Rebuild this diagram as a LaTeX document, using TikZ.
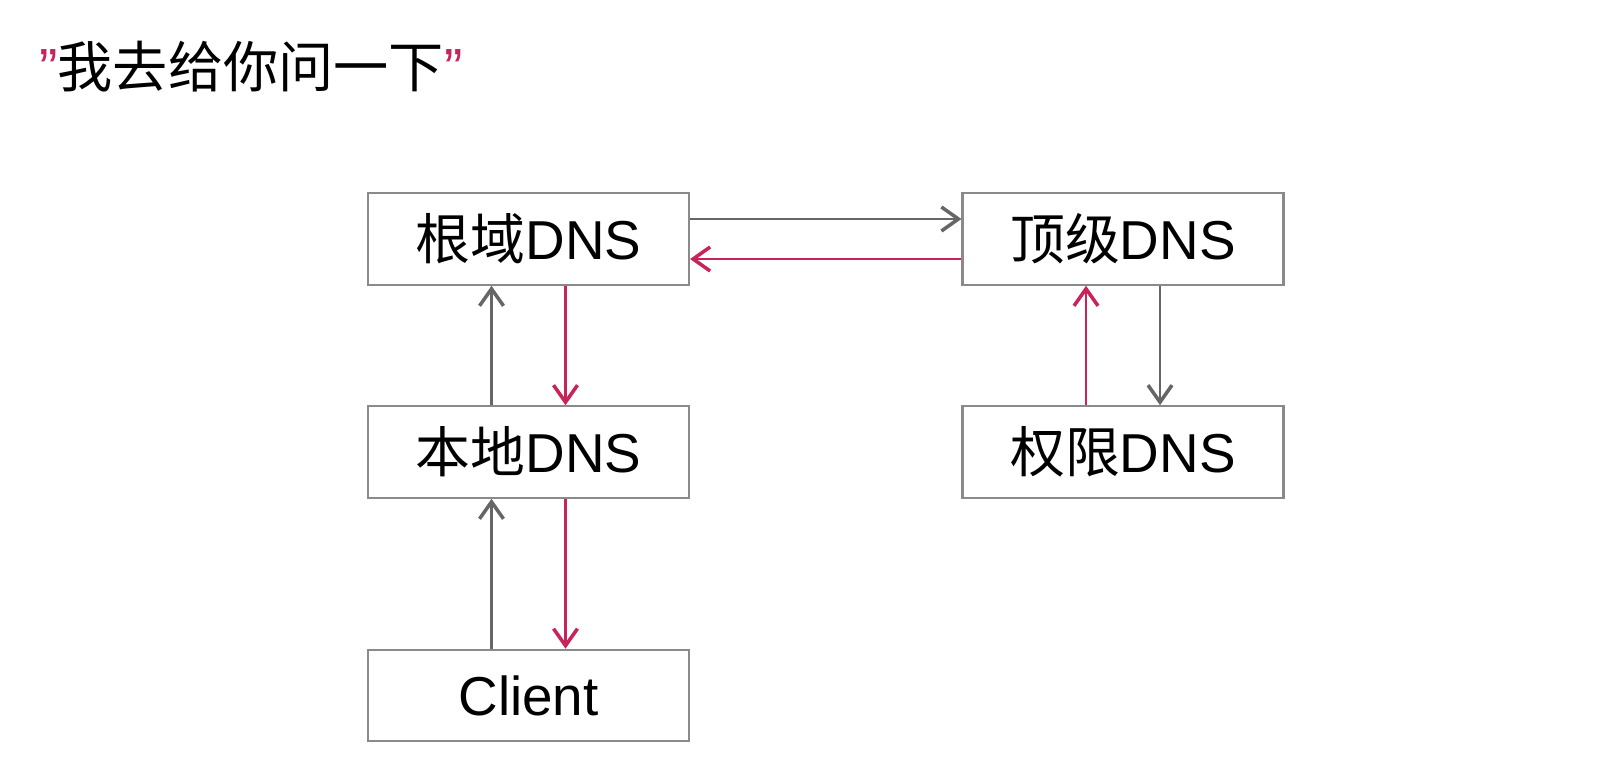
\documentclass[tikz,border=0pt]{standalone}
\usepackage{fontspec}
\setmainfont{Liberation Sans}
\newfontfamily\cjk{Noto Sans CJK SC}
\usepackage{tikz}
\usetikzlibrary{arrows.meta}
\definecolor{askgray}{HTML}{666666}
\definecolor{boxgray}{HTML}{8A8A8A}
\definecolor{answred}{HTML}{C8245A}

\begin{document}
\begin{tikzpicture}[scale=1,
        	dnsbox/.style={draw=boxgray,line width=0.6pt,minimum width=3.21cm,minimum height=0.915cm,
        	  inner sep=0pt,font=\fontsize{15.6}{18}\selectfont},
        	ask/.style={draw=askgray,line width=0.6pt,-{Straight Barb[length=1.7mm,width=2.4mm,line width=1pt]}},
        	answer/.style={draw=answred,line width=0.6pt,-{Straight Barb[length=1.7mm,width=2.4mm,line width=1pt]}}]
        	\pgfmathsetmacro{\dx}{0.37}
        	\pgfmathsetmacro{\dy}{0.2}

        	\fill[white] (0,0) rectangle (16.12,7.56);
        	\useasboundingbox (0,0) rectangle (16.12,7.56);

        	\node[anchor=base west,font=\fontsize{15.7}{18}\selectfont] (title) at (0.27,6.68)
        	  {\textcolor{answred}{”}{\cjk 我去给你问一下}\textcolor{answred}{”}};

        	\node[dnsbox] (root)   at (5.285,5.17)  {{\cjk 根域}DNS};
        	\node[dnsbox] (tld)    at (11.23,5.17)  {{\cjk 顶级}DNS};
        	\node[dnsbox] (local)  at (5.285,3.04)  {{\cjk 本地}DNS};
        	\node[dnsbox] (auth)   at (11.23,3.04)  {{\cjk 权限}DNS};
        	\node[dnsbox] (client) at (5.285,0.605) {Client};

        	\draw[ask] ([xshift=-\dx cm]client.north) -- ([xshift=-\dx cm]local.south);
        	\draw[ask] ([xshift=-\dx cm]local.north) -- ([xshift=-\dx cm]root.south);
        	\draw[ask] ([yshift=\dy cm]root.east) -- ([yshift=\dy cm]tld.west);
        	\draw[ask] ([xshift=\dx cm]tld.south) -- ([xshift=\dx cm]auth.north);

        	\draw[answer] ([xshift=-\dx cm]auth.north) -- ([xshift=-\dx cm]tld.south);
        	\draw[answer] ([yshift=-\dy cm]tld.west) -- ([yshift=-\dy cm]root.east);
        	\draw[answer] ([xshift=\dx cm]root.south) -- ([xshift=\dx cm]local.north);
        	\draw[answer] ([xshift=\dx cm]local.south) -- ([xshift=\dx cm]client.north);
        \end{tikzpicture}
\end{document}
